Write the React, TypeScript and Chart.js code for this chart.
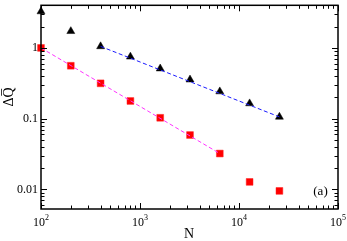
import React, { useEffect, useRef } from "react";
import { Chart, registerables } from "chart.js";

Chart.register(...registerables);

// ---- data ----
const sizesN = [100, 200, 400, 800, 1600, 3200, 6400, 12800, 25600];
const triangleValues = [3.27, 1.72, 1.05, 0.75, 0.51, 0.356, 0.242, 0.164, 0.106];
const squareValues = [1.0, 0.56, 0.316, 0.178, 0.103, 0.0588, 0.0322, 0.0128, 0.00955];
const blueFitN = [400, 25600];
const blueFitValues = [1.05, 0.106];
const magentaFitN = [100, 6400];
const magentaFitValues = [1.0, 0.0322];

const xTickValues = [100, 1000, 10000, 100000];
const xTickBase = ["10", "10", "10", "10"];
const xTickExponents = ["2", "3", "4", "5"];
const yTickValues = [0.01, 0.1, 1];
const yTickLabels = ["0.01", "0.1", "1"];

const xTitle = "N";
const yTitle = "\u0394Q\u0305";
const panelLabel = "(a)";

const X_MIN = 100;
const X_MAX = 100000;
const Y_MIN = 0.0053;
const Y_MAX = 4;

const FONT = '"Liberation Serif", "DejaVu Serif", serif';

const zip = (xs: number[], ys: number[]) => xs.map((x, i) => ({ x, y: ys[i] }));

function logMinors(min: number, max: number) {
  const out: { v: number; major: boolean }[] = [];
  const d0 = Math.floor(Math.log10(min));
  const d1 = Math.ceil(Math.log10(max));
  for (let d = d0; d <= d1; d++) {
    for (let m = 1; m <= 9; m++) {
      const v = m * Math.pow(10, d);
      if (v >= min * 0.9999 && v <= max * 1.0001) out.push({ v, major: m === 1 });
    }
  }
  return out;
}

const framePlugin = {
  id: "frameTicks",
  afterDraw(chart: any) {
    const { ctx, chartArea } = chart;
    const xs = chart.scales.x;
    const ys = chart.scales.y;
    const { left, right, top, bottom } = chartArea;
    ctx.save();
    ctx.strokeStyle = "#000";
    ctx.lineWidth = 1.5;
    ctx.strokeRect(left, top, right - left, bottom - top);

    ctx.lineWidth = 1;
    const MAJ = 6;
    const MIN = 3.5;
    ctx.beginPath();
    for (const t of logMinors(X_MIN, X_MAX)) {
      const px = Math.round(xs.getPixelForValue(t.v)) + 0.5;
      const L = t.major ? MAJ : MIN;
      ctx.moveTo(px, bottom);
      ctx.lineTo(px, bottom - L);
      ctx.moveTo(px, top);
      ctx.lineTo(px, top + L);
    }
    for (const t of logMinors(Y_MIN, Y_MAX)) {
      const py = Math.round(ys.getPixelForValue(t.v)) + 0.5;
      const L = t.major ? MAJ : MIN;
      ctx.moveTo(left, py);
      ctx.lineTo(left + L, py);
      ctx.moveTo(right, py);
      ctx.lineTo(right - L, py);
    }
    ctx.stroke();

    // tick labels
    ctx.fillStyle = "#000";
    ctx.textBaseline = "alphabetic";
    xTickValues.forEach((v, i) => {
      const px = xs.getPixelForValue(v);
      ctx.font = `12px ${FONT}`;
      const bw = ctx.measureText(xTickBase[i]).width;
      ctx.font = `8px ${FONT}`;
      const ew = ctx.measureText(xTickExponents[i]).width;
      const start = px - (bw + ew) / 2;
      ctx.font = `12px ${FONT}`;
      ctx.textAlign = "left";
      ctx.fillText(xTickBase[i], start, bottom + 17);
      ctx.font = `8px ${FONT}`;
      ctx.fillText(xTickExponents[i], start + bw, bottom + 11);
    });
    ctx.font = `12px ${FONT}`;
    ctx.textAlign = "right";
    ctx.textBaseline = "middle";
    yTickValues.forEach((v, i) => {
      const py = ys.getPixelForValue(v);
      ctx.fillText(yTickLabels[i], left - 3, py);
    });

    // axis titles
    ctx.font = `14px ${FONT}`;
    ctx.textAlign = "center";
    ctx.textBaseline = "middle";
    ctx.fillText(xTitle, (left + right) / 2 - 0.5, bottom + 25);

    ctx.save();
    ctx.translate(9, 97);
    ctx.rotate(-Math.PI / 2);
    ctx.font = `14px ${FONT}`;
    ctx.fillText(yTitle, 0, 0);
    ctx.restore();

    ctx.font = `13px ${FONT}`;
    ctx.textAlign = "center";
    ctx.fillText(panelLabel, 320.5, 192);
    ctx.restore();
  },
};

export default function App() {
  const ref = useRef<HTMLCanvasElement | null>(null);
  useEffect(() => {
    document.body.style.margin = "0";
    if (!ref.current) return;
    const chart = new Chart(ref.current, {
      type: "scatter",
      data: {
        datasets: [
          {
            type: "line",
            data: zip(blueFitN, blueFitValues),
            borderColor: "#1a1aff",
            borderWidth: 1,
            borderDash: [4, 2.5],
            pointRadius: 0,
            fill: false,
            clip: false as any,
          },
          {
            type: "line",
            data: zip(magentaFitN, magentaFitValues),
            borderColor: "#ff33ff",
            borderWidth: 1,
            borderDash: [4, 2.5],
            pointRadius: 0,
            fill: false,
            clip: false as any,
          },
          {
            data: zip(sizesN, triangleValues),
            pointStyle: "triangle",
            pointRadius: 4.6,
            backgroundColor: "#000",
            borderColor: "#000",
            borderWidth: 0.5,
            clip: false as any,
          },
          {
            data: zip(sizesN, squareValues),
            pointStyle: "rect",
            pointRadius: 4.8,
            backgroundColor: "#ff0000",
            borderColor: "#ff2020",
            borderWidth: 0.5,
            clip: false as any,
          },
        ] as any,
      },
      options: {
        animation: false,
        responsive: false,
        events: [],
        layout: { padding: { left: 41, right: 9, top: 2, bottom: 32 } },
        plugins: { legend: { display: false }, tooltip: { enabled: false } },
        scales: {
          x: {
            type: "logarithmic",
            display: false,
            min: X_MIN,
            max: X_MAX,
          },
          y: {
            type: "logarithmic",
            display: false,
            min: Y_MIN,
            max: Y_MAX,
          },
        },
      },
      plugins: [framePlugin],
    });
    return () => chart.destroy();
  }, []);
  return (
    <div style={{ position: "absolute", left: 0, top: 0, width: 347, height: 241 }}>
      <canvas ref={ref} width={347} height={241} style={{ width: 347, height: 241 }} />
    </div>
  );
}
